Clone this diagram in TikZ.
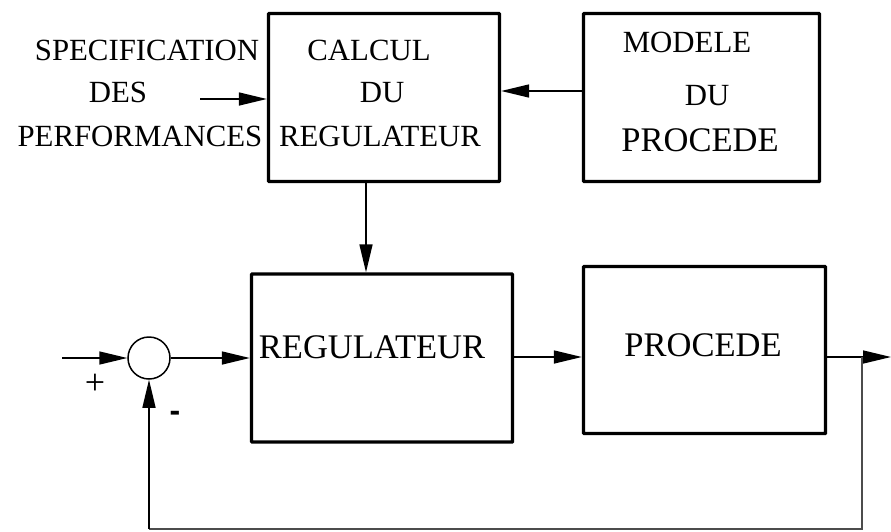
\documentclass[tikz,border=0pt]{standalone}
\usepackage{fontspec}
\setmainfont{Liberation Serif}
\newfontfamily\sansf{Liberation Sans}
\usetikzlibrary{arrows.meta}
\begin{document}
\begin{tikzpicture}[x=1pt,y=-1pt,
  box/.style={draw, line width=3.3pt, rectangle, inner sep=0pt, rounded corners=0.6pt},
  lbl/.style={inner sep=0pt, font=\fontsize{30.8}{36}\selectfont},
  big/.style={inner sep=0pt, font=\fontsize{34.5}{40}\selectfont},
  sgn/.style={inner sep=0pt, font=\fontsize{36}{42}\selectfont},
  arr/.style={line width=1.5pt, -{Triangle[length=28pt,width=13pt]}},
  wire/.style={line width=1.5pt},
  fbk/.style={line width=1.2pt, draw=black!70}]
\useasboundingbox (0,0) rectangle (891,531);

% boxes
\node[box, minimum width=231pt, minimum height=168pt] (calc) at (384,97.5) {};
\node[box, minimum width=236pt, minimum height=168pt] (mod) at (701.5,97.5) {};
\node[box, minimum width=261pt, minimum height=168pt] (reg) at (382,358) {};
\node[box, minimum width=242pt, minimum height=167pt] (proc) at (704.5,350) {};
\node[draw, circle, line width=1.5pt, minimum size=42pt, inner sep=0pt] (sum) at (149,358) {};

% texts
\node[lbl] (s1) at (147,50) {SPECIFICATION};
\node[lbl] (s2) at (118,92.5) {DES};
\node[lbl] (s3) at (140,136) {PERFORMANCES};
\node[lbl] (c1) at (369,50) {CALCUL};
\node[lbl] (c2) at (382,92.5) {DU};
\node[lbl] (c3) at (380,136) {REGULATEUR};
\node[lbl] (m1) at (687,42) {MODELE};
\node[lbl] (m2) at (707,96) {DU};
\node[big] (m3) at (700,140) {PROCEDE};
\node[big] (r1) at (372,347) {REGULATEUR};
\node[big] (p1) at (703,345) {PROCEDE};
\node[sgn] (plus) at (95,384) {+};
\node[sgn, font=\sansf\bfseries\fontsize{32}{38}\selectfont] (minus) at (175,416) {-};

% helper coordinates
\coordinate (specin) at (200,99);
\coordinate (ymod) at (0,91);
\coordinate (xdown) at (366,0);
\coordinate (in) at (62,358);
\coordinate (tap) at (862,357);
\coordinate (out) at (891,357);
\coordinate (bl) at (149,529);

% connectors
\draw[arr] (specin) -- (specin -| calc.west);
\draw[arr] (mod.west |- ymod) -- (calc.east |- ymod);
\draw[arr] (calc.south -| xdown) -- (reg.north -| xdown);
\draw[arr] (in) -- (sum.west);
\draw[arr] (sum.east) -- (sum.east -| reg.west);
\draw[arr] (reg.east |- tap) -- (proc.west |- tap);
\draw[wire] (proc.east |- tap) -- (tap);
\draw[arr] (tap) -- (out);
\draw[fbk] (tap) |- (bl);
\draw[arr] (bl) -- (sum.south);
\end{tikzpicture}
\end{document}
